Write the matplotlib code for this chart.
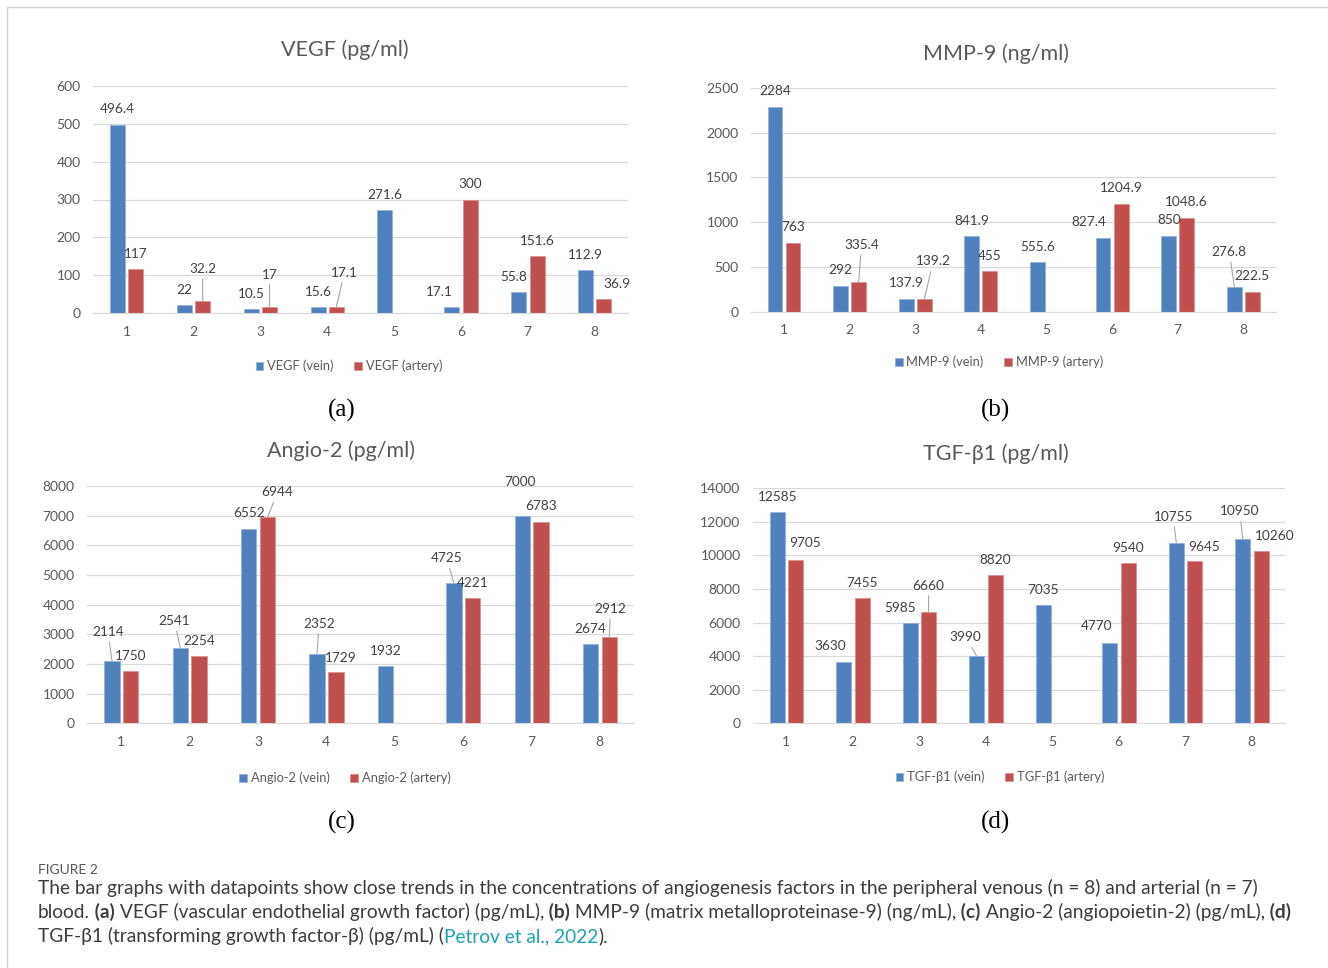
import numpy as np
import matplotlib.pyplot as plt
from matplotlib.lines import Line2D

W, H = 1328, 968
plt.rcParams['font.family'] = ['Lato', 'DejaVu Sans']

# ---- data ----
samples = [1, 2, 3, 4, 5, 6, 7, 8]
nan = np.nan

vegf_vein = [496.4, 22, 10.5, 15.6, 271.6, 17.1, 55.8, 112.9]
vegf_artery = [117, 32.2, 17, 17.1, nan, 300, 151.6, 36.9]

mmp9_vein = [2284, 292, 137.9, 841.9, 555.6, 827.4, 850, 276.8]
mmp9_artery = [763, 335.4, 139.2, 455, nan, 1204.9, 1048.6, 222.5]

angio2_vein = [2114, 2541, 6552, 2352, 1932, 4725, 7000, 2674]
angio2_artery = [1750, 2254, 6944, 1729, nan, 4221, 6783, 2912]

tgf_vein = [12585, 3630, 5985, 3990, 7035, 4770, 10755, 10950]
tgf_artery = [9705, 7455, 6660, 8820, nan, 9540, 9645, 10260]

# label offsets in pixels (dx, dy, leader line)
vegf_vein_lbl = [(0, 16, 0), (0, 15, 0), (0, 15, 0), (0, 15, 0), (0, 15, 0), (-12, 15, 0), (-5, 15, 0), (0, 15, 0)]
vegf_art_lbl = [(0, 15, 0), (0, 32, 1), (0, 32, 1), (8, 34, 1), None, (0, 15, 0), (0, 15, 0), (13, 15, 0)]
mmp9_vein_lbl = [(0, 16, 0), (0, 16, 0), (0, 16, 0), (0, 15, 0), (0, 15, 0), (-14, 16, 0), (0, 16, 0), (-5, 35, 1)]
mmp9_art_lbl = [(0, 16, 0), (3, 37, 1), (9, 38, 1), (0, 15, 0), None, (0, 16, 0), (0, 16, 0), (0, 16, 0)]
angio2_vein_lbl = [(-4, 29, 1), (-6, 27, 1), (0, 16, 0), (2, 30, 1), (0, 15, 0), (-7, 25, 1), (-2, 34, 0), (0, 15, 0)]
angio2_art_lbl = [(0, 15, 0), (0, 15, 0), (10, 25, 1), (5, 14, 0), None, (0, 15, 0), (0, 16, 0), (1, 28, 1)]
tgf_vein_lbl = [(0, 15, 0), (-14, 16, 0), (-10, 15, 0), (-11, 19, 1), (0, 15, 0), (-13, 17, 0), (-3, 26, 1), (-3, 28, 1)]
tgf_art_lbl = [(10, 17, 0), (0, 15, 0), (0, 26, 1), (0, 15, 0), None, (0, 15, 0), (10, 14, 0), (14, 15, 0)]

BLUE = '#4F81BD'
RED = '#C0504D'
GRID = '#d9d9d9'
TXT = '#595959'

fig = plt.figure(figsize=(W / 100, H / 100), dpi=100)


def px_axes(left, top, right, bottom):
    return fig.add_axes([left / W, 1 - bottom / H, (right - left) / W, (bottom - top) / H])


def fig_text(x, y, s, **kw):
    return fig.text(x / W, 1 - y / H, s, **kw)


def add_labels(ax, xs, vals, offs):
    for xi, v, off in zip(xs, vals, offs):
        if off is None or np.isnan(v):
            continue
        dx, dy, lead = off
        arrow = dict(arrowstyle='-', color='#a6a6a6', lw=0.8, shrinkA=1, shrinkB=0) if lead else None
        ax.annotate(f'{v:g}', (xi, v), xytext=(dx, dy), textcoords='offset pixels',
                    ha='center', va='center', fontsize=9.8, color='#404040',
                    arrowprops=arrow, annotation_clip=False)


def draw_panel(box, name, unit, vein, artery, ymax, step, vlbl, albl, title_pos, legend_pos, letter_pos, letter):
    ax = px_axes(*box)
    x = np.array(samples, dtype=float)
    xv, xa = x - 0.135, x + 0.14
    ax.bar(xv, vein, 0.225, color=BLUE, edgecolor='#8eaedb', linewidth=0.5, label=f'{name} (vein)', zorder=2)
    ax.bar(xa, artery, 0.225, color=RED, edgecolor='#dc8c8a', linewidth=0.5, label=f'{name} (artery)', zorder=2)
    add_labels(ax, xv, vein, vlbl)
    add_labels(ax, xa, artery, albl)

    ax.set_xlim(0.5, 8.5)
    ax.set_ylim(0, ymax)
    ax.set_xticks(samples)
    ax.set_yticks(np.arange(0, ymax + 1, step))
    ax.grid(axis='y', color=GRID, lw=0.9)
    ax.set_axisbelow(True)
    for s in ['top', 'right', 'left']:
        ax.spines[s].set_visible(False)
    ax.spines['bottom'].set_color(GRID)
    ax.tick_params(length=0, labelsize=10, labelcolor=TXT)
    ax.tick_params(axis='y', pad=9)
    ax.tick_params(axis='x', pad=9)

    fig_text(*title_pos, f'{name} ({unit})', fontsize=15.5, color=TXT, ha='center', va='center')
    ax.legend(loc='center', bbox_to_anchor=(legend_pos[0] / W, 1 - legend_pos[1] / H),
              bbox_transform=fig.transFigure, ncol=2, frameon=False, fontsize=9.3,
              handlelength=0.6, handleheight=0.6, handletextpad=0.3, columnspacing=1.6,
              labelcolor=TXT)
    fig_text(*letter_pos, letter, fontsize=18, family=['Liberation Serif', 'DejaVu Serif'],
             color='black', ha='center', va='center')
    return ax


draw_panel((93, 86, 628, 313), 'VEGF', 'pg/ml', vegf_vein, vegf_artery, 600, 100,
           vegf_vein_lbl, vegf_art_lbl, (345, 50), (349, 366), (342, 410), '(a)')
draw_panel((751, 88, 1276, 311.7), 'MMP-9', 'ng/ml', mmp9_vein, mmp9_artery, 2500, 500,
           mmp9_vein_lbl, mmp9_art_lbl, (996, 54), (999, 362), (996, 410), '(b)')
draw_panel((87, 486, 634, 723.3), 'Angio-2', 'pg/ml', angio2_vein, angio2_artery, 8000, 1000,
           angio2_vein_lbl, angio2_art_lbl, (341, 451), (345, 778), (342, 822), '(c)')
draw_panel((753, 488.3, 1285, 723.3), 'TGF-β1', 'pg/ml', tgf_vein, tgf_artery, 14000, 2000,
           tgf_vein_lbl, tgf_art_lbl, (996, 454), (1000, 777), (996, 822), '(d)')

# frame around the figure area
fig.add_artist(Line2D([7 / W, 7 / W, 1], [0, 1 - 7 / H, 1 - 7 / H], color='#d0d0d0', lw=1))

# caption
CAP = '#3c3c3c'
TEAL = '#1aa3b5'
fig_text(38, 874, 'FIGURE 2', fontsize=10, color='#555555', va='baseline')

renderer = fig.canvas.get_renderer()


def text_run(x0, y0, parts, size=13.8):
    x = x0
    for s, weight, color in parts:
        t = fig_text(x, y0, s, fontsize=size, fontweight=weight, color=color, va='baseline', ha='left')
        x += t.get_window_extent(renderer).width


text_run(38, 894, [('The bar graphs with datapoints show close trends in the concentrations of angiogenesis '
                    'factors in the peripheral venous (n = 8) and arterial (n = 7)', 'normal', CAP)])
text_run(38, 918, [('blood.', 'normal', CAP), (' (a)', 'bold', CAP),
                   (' VEGF (vascular endothelial growth factor) (pg/mL),', 'normal', CAP), (' (b)', 'bold', CAP),
                   (' MMP-9 (matrix metalloproteinase-9) (ng/mL),', 'normal', CAP), (' (c)', 'bold', CAP),
                   (' Angio-2 (angiopoietin-2) (pg/mL),', 'normal', CAP), (' (d)', 'bold', CAP)])
text_run(38, 942, [('TGF-β1 (transforming growth factor-β) (pg/mL) (', 'normal', CAP),
                   ('Petrov et al., 2022', 'normal', TEAL), (').', 'normal', CAP)])

fig.savefig('out.png', dpi=100)
